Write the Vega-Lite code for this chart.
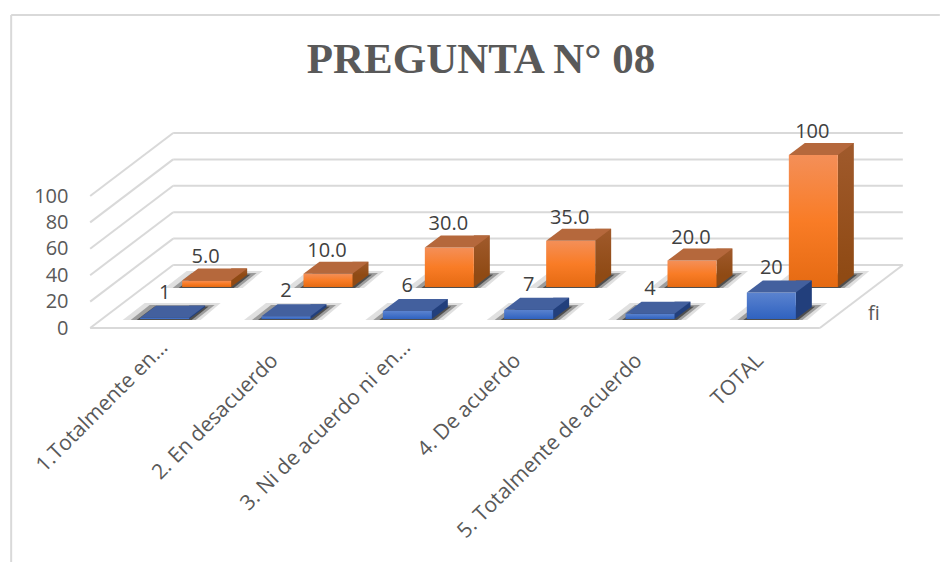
{"$schema":"https://vega.github.io/schema/vega-lite/v6.json","width":728,"height":132,"autosize":"none","padding":{"left":104,"top":196,"right":108,"bottom":234},"background":"white",
"title":{"text":"PREGUNTA N° 08","font":"Liberation Serif","fontWeight":"bold","fontSize":43,"color":"#595959","anchor":"middle","frame":"group","dx":13,"offset":-102,"baseline":"alphabetic"},
"config":{"view":{"stroke":null}},
"datasets":{"grid":[{"v":0},{"v":20},{"v":40},{"v":60},{"v":80},{"v":100}],
"bars":[
{"cat":"1.Totalmente en…","serie":"fi","value":1,"label":"1"},
{"cat":"2. En desacuerdo","serie":"fi","value":2,"label":"2"},
{"cat":"3. Ni de acuerdo ni en…","serie":"fi","value":6,"label":"6"},
{"cat":"4. De acuerdo","serie":"fi","value":7,"label":"7"},
{"cat":"5. Totalmente de acuerdo","serie":"fi","value":4,"label":"4"},
{"cat":"TOTAL","serie":"fi","value":20,"label":"20"},
{"cat":"1.Totalmente en…","serie":"pct","value":5,"label":"5.0"},
{"cat":"2. En desacuerdo","serie":"pct","value":10,"label":"10.0"},
{"cat":"3. Ni de acuerdo ni en…","serie":"pct","value":30,"label":"30.0"},
{"cat":"4. De acuerdo","serie":"pct","value":35,"label":"35.0"},
{"cat":"5. Totalmente de acuerdo","serie":"pct","value":20,"label":"20.0"},
{"cat":"TOTAL","serie":"pct","value":100,"label":"100"}]},
"data":{"name":"bars"},
"encoding":{
"x":{"field":"cat","type":"nominal","sort":null,"title":null,"scale":{"paddingInner":0,"paddingOuter":0,"domain":["1.Totalmente en…","2. En desacuerdo","3. Ni de acuerdo ni en…","4. De acuerdo","5. Totalmente de acuerdo","TOTAL"]},"axis":{"labelAngle":-45,"labelAlign":"right","labelBaseline":"middle","labelFont":"Open Sans","labelFontSize":21,"labelColor":"#595959","labelLimit":400,"domain":false,"ticks":false,"grid":false,"labelOffset":{"condition":{"test":"indexof(datum.label,'…')>=0","value":0},"value":-11},"labelPadding":{"condition":{"test":"indexof(datum.label,'…')>=0","value":16},"value":29}}},
"y":{"field":"value","type":"quantitative","title":null,"scale":{"domain":[0,100],"nice":false},"axis":{"values":[0,20,40,60,80,100],"labelFont":"Open Sans","labelFontSize":20,"labelColor":"#595959","labelPadding":36,"domain":false,"ticks":false,"grid":false}}
},
"layer":[
{"data":{"name":"grid"},"mark":{"type":"rule","color":"#d9d9d9","strokeWidth":2,"xOffset":-74.5,"x2Offset":8.5,"y2Offset":-63},"encoding":{"x":{"datum":"1.Totalmente en…","type":"nominal"},"x2":{"datum":"1.Totalmente en…"},"y":{"field":"v","type":"quantitative"},"y2":{"field":"v"}}},
{"data":{"name":"grid"},"mark":{"type":"rule","color":"#d9d9d9","strokeWidth":2,"xOffset":8.5,"x2Offset":131.5,"yOffset":-63,"y2Offset":-63},"encoding":{"x":{"datum":"1.Totalmente en…","type":"nominal"},"x2":{"datum":"TOTAL"},"y":{"field":"v","type":"quantitative"},"y2":{"field":"v"}}},
{"data":{"values":[{"v":0}]},"mark":{"type":"rule","color":"#d9d9d9","strokeWidth":2,"xOffset":-74.5,"x2Offset":48.5},"encoding":{"x":{"datum":"1.Totalmente en…","type":"nominal"},"x2":{"datum":"TOTAL"},"y":{"field":"v","type":"quantitative"},"y2":{"field":"v"}}},
{"data":{"values":[{"v":0}]},"mark":{"type":"rule","color":"#d9d9d9","strokeWidth":2,"xOffset":48.5,"x2Offset":131.5,"y2Offset":-63},"encoding":{"x":{"datum":"TOTAL","type":"nominal"},"x2":{"datum":"TOTAL"},"y":{"field":"v","type":"quantitative"},"y2":{"field":"v"}}},
{"data":{"values":[{"v":100}]},"mark":{"type":"rule","color":"#d9d9d9","strokeWidth":2,"xOffset":-153.5,"x2Offset":168.5,"yOffset":-181,"y2Offset":-181},"encoding":{"x":{"datum":"1.Totalmente en…","type":"nominal"},"x2":{"datum":"TOTAL"},"y":{"field":"v","type":"quantitative"},"y2":{"field":"v"}}},
{"data":{"values":[{"v":100,"w":0}]},"mark":{"type":"rule","color":"#d9d9d9","strokeWidth":2,"xOffset":-153.5,"yOffset":-181,"y2Offset":234},"encoding":{"x":{"datum":"1.Totalmente en…","type":"nominal"},"y":{"field":"v","type":"quantitative"},"y2":{"field":"w"}}},
{"data":{"values":[{"t":"fi","v":0}]},"mark":{"type":"text","font":"Open Sans","fontSize":20,"color":"#595959","align":"center","baseline":"alphabetic","xOffset":102.5,"yOffset":-8},"encoding":{"x":{"datum":"TOTAL","type":"nominal"},"y":{"field":"v","type":"quantitative"},"text":{"field":"t"}}},

{"transform":[{"filter":"datum.serie==='pct'"}],"mark":{"type":"point","filled":true,"strokeWidth":0,"size":10000,"color":"#000","opacity":0.12,"xOffset":42,"yOffset":-41,"shape":"M-0.84 0.02L-0.4 -0.32L1.12 -0.32L0.72 0.02Z"},"encoding":{"y":{"datum":0}}},
{"transform":[{"filter":"datum.serie==='pct'"}],"mark":{"type":"point","filled":true,"strokeWidth":0,"size":10000,"color":"#000","opacity":0.3,"xOffset":42,"yOffset":-41,"shape":"M-0.68 0.02L-0.3 -0.28L1 -0.28L0.62 0.02Z"},"encoding":{"y":{"datum":0}}},
{"transform":[{"filter":"datum.serie==='pct'"}],"mark":{"type":"point","filled":true,"strokeWidth":0,"size":10000,"color":"#000","opacity":0.5,"xOffset":42,"yOffset":-41,"shape":"M-0.56 0.02L-0.2 -0.25L0.88 -0.25L0.54 0.02Z"},"encoding":{"y":{"datum":0}}},
{"transform":[{"filter":"datum.serie==='pct'"}],"mark":{"type":"point","filled":true,"strokeWidth":0,"size":10000,"color":"#8f4a14","opacity":1,"xOffset":42,"yOffset":-41,"shape":"M-0.49 0L-0.17 -0.24L0.81 -0.24L0.49 0Z"},"encoding":{"y":{"datum":0}}},
{"transform":[{"filter":"datum.serie==='pct'"}],"mark":{"type":"bar","width":16,"xOffset":74.5,"yOffset":-53,"y2Offset":-53,"color":{"gradient":"linear","x1":0,"y1":0,"x2":0,"y2":1,"stops":[{"offset":0,"color":"#a05a2c"},{"offset":1,"color":"#8f4a14"}]}},"encoding":{"y2":{"datum":0}}},
{"transform":[{"filter":"datum.serie==='pct'"}],"mark":{"type":"bar","width":49,"xOffset":42,"yOffset":-41,"y2Offset":-41,"color":{"gradient":"linear","x1":0,"y1":0,"x2":0,"y2":1,"stops":[{"offset":0,"color":"#f48f58"},{"offset":0.5,"color":"#f97c26"},{"offset":1,"color":"#e56a12"}]}},"encoding":{"y2":{"datum":0}}},
{"transform":[{"filter":"datum.serie==='pct'"}],"mark":{"type":"point","filled":true,"strokeWidth":0,"size":10000,"color":"#b5683c","opacity":1,"xOffset":42,"yOffset":-41,"shape":"M-0.49 0L-0.17 -0.24L0.81 -0.24L0.49 0Z"}},
{"transform":[{"filter":"datum.serie==='pct'"}],"mark":{"type":"text","font":"Open Sans","fontSize":20,"color":"#404040","align":"center","baseline":"alphabetic","xOffset":41,"yOffset":-58},"encoding":{"text":{"field":"label"}}},

{"transform":[{"filter":"datum.serie==='fi'"}],"mark":{"type":"point","filled":true,"strokeWidth":0,"size":10000,"color":"#000","opacity":0.12,"yOffset":-9,"shape":"M-0.84 0.02L-0.4 -0.32L1.12 -0.32L0.72 0.02Z"},"encoding":{"y":{"datum":0}}},
{"transform":[{"filter":"datum.serie==='fi'"}],"mark":{"type":"point","filled":true,"strokeWidth":0,"size":10000,"color":"#000","opacity":0.3,"yOffset":-9,"shape":"M-0.68 0.02L-0.3 -0.28L1 -0.28L0.62 0.02Z"},"encoding":{"y":{"datum":0}}},
{"transform":[{"filter":"datum.serie==='fi'"}],"mark":{"type":"point","filled":true,"strokeWidth":0,"size":10000,"color":"#000","opacity":0.5,"yOffset":-9,"shape":"M-0.56 0.02L-0.2 -0.25L0.88 -0.25L0.54 0.02Z"},"encoding":{"y":{"datum":0}}},
{"transform":[{"filter":"datum.serie==='fi'"}],"mark":{"type":"point","filled":true,"strokeWidth":0,"size":10000,"color":"#223f7c","opacity":1,"yOffset":-9,"shape":"M-0.49 0L-0.17 -0.24L0.81 -0.24L0.49 0Z"},"encoding":{"y":{"datum":0}}},
{"transform":[{"filter":"datum.serie==='fi'"}],"mark":{"type":"bar","width":16,"xOffset":32.5,"yOffset":-21,"y2Offset":-21,"color":"#223f7c"},"encoding":{"y2":{"datum":0}}},
{"transform":[{"filter":"datum.serie==='fi'"}],"mark":{"type":"bar","width":49,"yOffset":-9,"y2Offset":-9,"color":{"gradient":"linear","x1":0,"y1":0,"x2":0,"y2":1,"stops":[{"offset":0,"color":"#5b83cf"},{"offset":1,"color":"#2f62c0"}]}},"encoding":{"y2":{"datum":0}}},
{"transform":[{"filter":"datum.serie==='fi'"}],"mark":{"type":"point","filled":true,"strokeWidth":0,"size":10000,"color":"#43609e","opacity":1,"yOffset":-9,"shape":"M-0.49 0L-0.17 -0.24L0.81 -0.24L0.49 0Z"}},
{"transform":[{"filter":"datum.serie==='fi'"}],"mark":{"type":"text","font":"Open Sans","fontSize":20,"color":"#404040","align":"center","baseline":"alphabetic","yOffset":-28},"encoding":{"text":{"field":"label"}}}
]}
